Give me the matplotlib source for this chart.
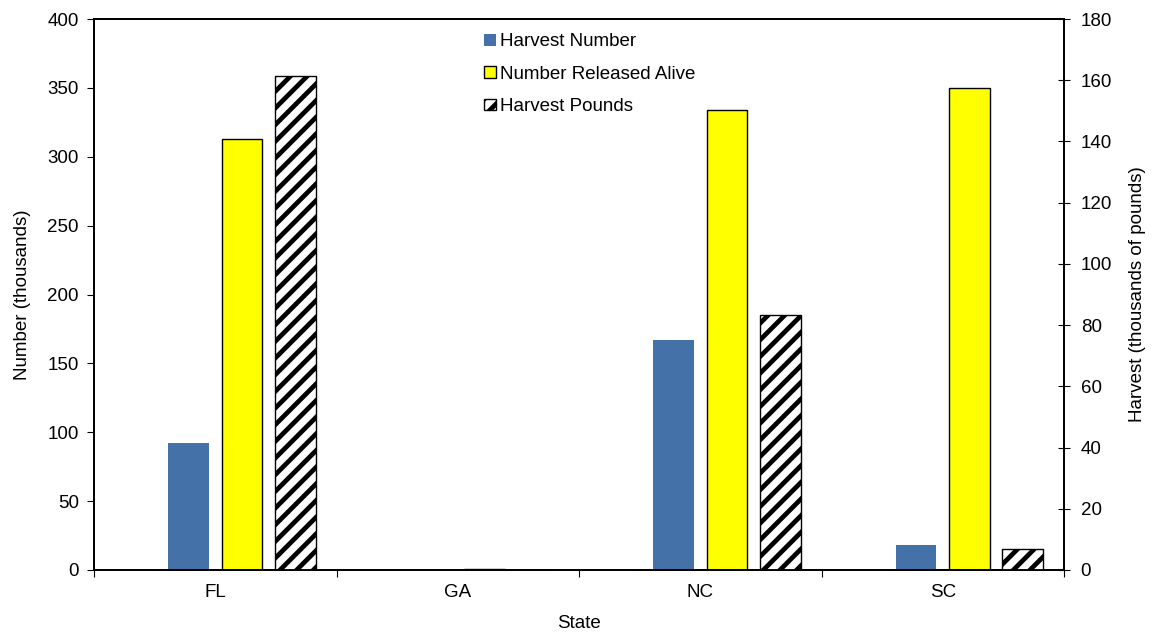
import matplotlib.pyplot as plt
import numpy as np

plt.rcParams['font.family'] = ['Liberation Sans', 'DejaVu Sans']
plt.rcParams['hatch.linewidth'] = 3.4

# data
states = ['FL', 'GA', 'NC', 'SC']
harvest_number = [92, 0, 167, 18]          # thousands
released_alive = [313, 1, 334, 350]       # thousands
harvest_pounds = [161.5, 0, 83.3, 6.8]    # thousands of pounds (right axis)

fs = 13.5
fig = plt.figure(figsize=(11.56, 6.36), dpi=100)
ax = fig.add_axes([94/1156, 1-570/636, (1064-94)/1156, (570-19)/636])
ax2 = ax.twinx()

x = np.arange(len(states))
w = 0.168
ax.bar(x - 0.11, harvest_number, w, color='#4472a8', label='Harvest Number', zorder=2)
ax.bar(x + 0.11, released_alive, w, color='#ffff00', edgecolor='black', linewidth=1,
       label='Number Released Alive', zorder=2)
ax2.bar(x + 0.33, harvest_pounds, w, color='white', edgecolor='black', linewidth=1,
        hatch='//', label='Harvest Pounds', zorder=2)

ax.set_xlim(-0.5, 3.5)
ax.set_ylim(0, 400)
ax2.set_ylim(0, 180)
ax.set_yticks(np.arange(0, 401, 50))
ax2.set_yticks(np.arange(0, 181, 20))
ax.set_xticks(np.arange(-0.5, 3.6, 1))
ax.set_xticklabels([])
ax.set_xticks(x, minor=True)
ax.set_xticklabels(states, minor=True)
ax.tick_params(axis='x', which='minor', length=0, labelsize=fs, pad=10)
ax.tick_params(axis='x', which='major', length=5, direction='out')
ax.tick_params(axis='y', labelsize=fs, length=5, direction='out', pad=6)
ax2.tick_params(axis='y', labelsize=fs, length=8, direction='inout', pad=8)

for a in (ax, ax2):
    for s in a.spines.values():
        s.set_linewidth(1.3)

ax.set_xlabel('State', fontsize=fs, labelpad=10)
ax.set_ylabel('Number (thousands)', fontsize=fs, labelpad=12)
ax2.set_ylabel('Harvest (thousands of pounds)', fontsize=fs, labelpad=12)

h1, l1 = ax.get_legend_handles_labels()
h2, l2 = ax2.get_legend_handles_labels()
ax2.legend(h1 + h2, l1 + l2, loc='upper left', bbox_to_anchor=(0.383, 1.008),
           frameon=False, fontsize=fs, handlelength=0.6, handleheight=0.6,
           handletextpad=0.25, labelspacing=0.82, borderpad=0.5)

fig.savefig('out.png', dpi=100)
